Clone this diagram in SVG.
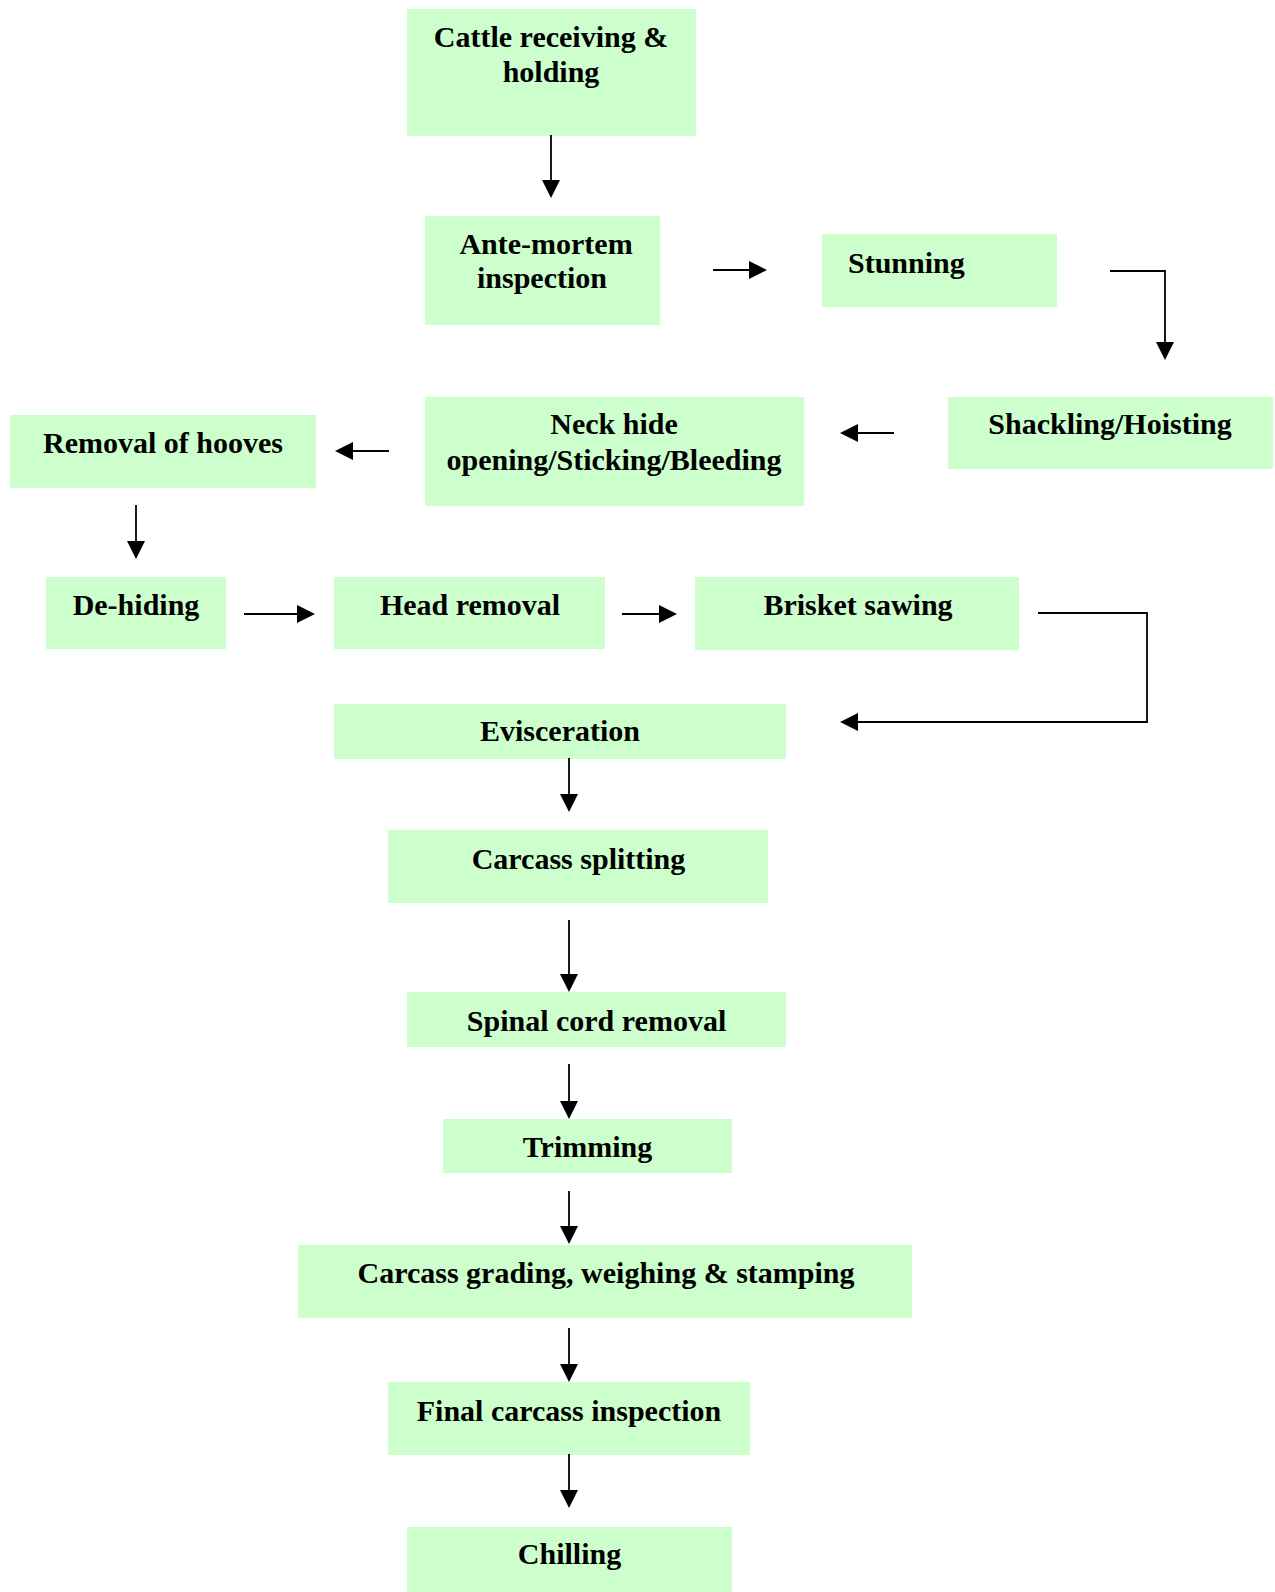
<svg xmlns="http://www.w3.org/2000/svg" width="1275" height="1592" viewBox="0 0 1275 1592">
<style>
.box{fill:#CCFFCC;stroke:none}
.t{font-family:"Liberation Serif","Times New Roman",serif;font-weight:bold;font-size:30px;fill:#000;text-anchor:middle}
.s{text-anchor:start}
.c{fill:none;stroke:#000;stroke-width:1.8}
</style>
<defs>
<marker id="ah" viewBox="0 0 18 18" refX="9" refY="9" markerWidth="18" markerHeight="18" markerUnits="userSpaceOnUse" orient="auto">
<path d="M0,0 L18,9 L0,18 z" fill="#000"/>
</marker>
</defs>
<rect width="1275" height="1592" fill="#fff"/>
<g id="n-cattle"><rect class="box" x="407" y="9" width="289" height="127"/><text class="t" x="551" y="47">Cattle receiving &amp;</text><text class="t" x="551" y="82">holding</text></g>
<g id="n-ante"><rect class="box" x="425" y="216" width="235" height="109"/><text class="t" x="546" y="254">Ante-mortem</text><text class="t" x="542" y="288">inspection</text></g>
<g id="n-stun"><rect class="box" x="822" y="234" width="235" height="73"/><text class="t s" x="848" y="273">Stunning</text></g>
<g id="n-shack"><rect class="box" x="948" y="397" width="325" height="72"/><text class="t" x="1110" y="434">Shackling/Hoisting</text></g>
<g id="n-neck"><rect class="box" x="425" y="397" width="379" height="109"/><text class="t" x="614" y="434">Neck hide</text><text class="t" x="614" y="470">opening/Sticking/Bleeding</text></g>
<g id="n-hooves"><rect class="box" x="10" y="415" width="306" height="73"/><text class="t" x="163" y="453">Removal of hooves</text></g>
<g id="n-dehide"><rect class="box" x="46" y="577" width="180" height="72"/><text class="t" x="136" y="615">De-hiding</text></g>
<g id="n-head"><rect class="box" x="334" y="577" width="271" height="72"/><text class="t" x="470" y="615">Head removal</text></g>
<g id="n-brisket"><rect class="box" x="695" y="577" width="324" height="73"/><text class="t" x="858" y="615">Brisket sawing</text></g>
<g id="n-evisc"><rect class="box" x="334" y="704" width="452" height="55"/><text class="t" x="560" y="741">Evisceration</text></g>
<g id="n-split"><rect class="box" x="388" y="830" width="380" height="73"/><text class="t" x="578.5" y="869">Carcass splitting</text></g>
<g id="n-spinal"><rect class="box" x="407" y="992" width="379" height="55"/><text class="t" x="596.5" y="1031">Spinal cord removal</text></g>
<g id="n-trim"><rect class="box" x="443" y="1119" width="289" height="54"/><text class="t" x="587.5" y="1157">Trimming</text></g>
<g id="n-grade"><rect class="box" x="298" y="1245" width="614" height="73"/><text class="t" x="606" y="1283">Carcass grading, weighing &amp; stamping</text></g>
<g id="n-final"><rect class="box" x="388" y="1382" width="362" height="73"/><text class="t" x="569" y="1421">Final carcass inspection</text></g>
<g id="n-chill"><rect class="box" x="407" y="1527" width="325" height="65"/><text class="t" x="569.5" y="1564">Chilling</text></g>
<g id="connectors" class="c">
<path class="c" d="M551,135 V189" marker-end="url(#ah)"/>
<path class="c" d="M713,270 H758" marker-end="url(#ah)"/>
<path class="c" d="M1110,271 H1165 V351" marker-end="url(#ah)"/>
<path class="c" d="M894,433 H849" marker-end="url(#ah)"/>
<path class="c" d="M389,451 H344" marker-end="url(#ah)"/>
<path class="c" d="M136,505 V550" marker-end="url(#ah)"/>
<path class="c" d="M244,614 H306" marker-end="url(#ah)"/>
<path class="c" d="M622,614 H668" marker-end="url(#ah)"/>
<path class="c" d="M1038,613 H1147 V722 H849" marker-end="url(#ah)"/>
<path class="c" d="M569,758 V803" marker-end="url(#ah)"/>
<path class="c" d="M569,920 V983" marker-end="url(#ah)"/>
<path class="c" d="M569,1064 V1110" marker-end="url(#ah)"/>
<path class="c" d="M569,1191 V1235" marker-end="url(#ah)"/>
<path class="c" d="M569,1328 V1373" marker-end="url(#ah)"/>
<path class="c" d="M569,1454 V1499" marker-end="url(#ah)"/>
</g>
</svg>
